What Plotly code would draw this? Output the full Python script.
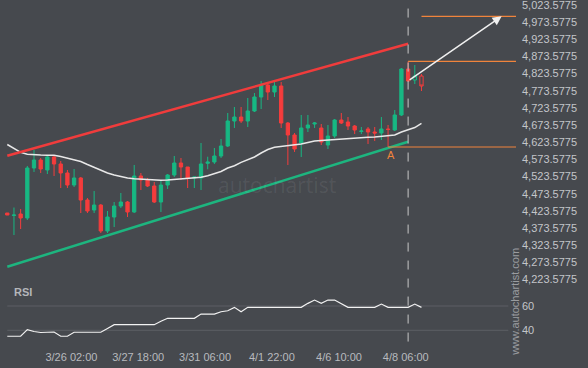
import plotly.graph_objects as go

# ---------------- data ----------------
idx = list(range(63))
opens = [4417.3, 4410.1, 4414.4, 4402.8, 4548.5, 4571.8, 4542.7, 4580.6, 4560.2, 4534.0,
         4498.9, 4519.4, 4455.2, 4426.1, 4440.6, 4364.9, 4405.7, 4437.7, 4449.4, 4420.3,
         4525.2, 4513.5, 4496.0, 4449.4, 4498.9, 4528.1, 4563.1, 4551.4, 4519.4, 4519.4,
         4562.2, 4566.0, 4583.5, 4612.6, 4685.5, 4697.1, 4685.5, 4714.6, 4755.4, 4790.4,
         4770.0, 4787.5, 4679.6, 4644.7, 4621.4, 4665.1, 4676.7, 4665.1, 4615.5, 4641.8,
         4688.4, 4682.6, 4670.9, 4654.9, 4662.2, 4653.4, 4650.5, 4662.2, 4659.3, 4703.0,
         4837.0, 4804.9, 4816.6]
highs = [4417.3, 4433.3, 4429.0, 4554.4, 4601.0, 4577.7, 4586.4, 4586.4, 4568.9, 4542.7,
         4545.6, 4522.3, 4460.9, 4481.4, 4443.5, 4423.2, 4449.4, 4475.6, 4452.3, 4557.3,
         4534.0, 4519.4, 4507.7, 4513.5, 4531.0, 4583.5, 4577.7, 4551.4, 4522.3, 4621.4,
         4581.4, 4606.8, 4633.0, 4708.8, 4726.3, 4726.3, 4752.5, 4767.1, 4802.0, 4799.1,
         4799.1, 4799.1, 4682.6, 4650.5, 4703.0, 4703.0, 4682.6, 4676.7, 4673.8, 4691.3,
         4708.8, 4697.1, 4673.8, 4668.0, 4668.0, 4668.0, 4697.1, 4673.8, 4717.5, 4839.9,
         4859.0, 4848.7, 4822.4]
lows = [4411.5, 4353.2, 4370.7, 4396.9, 4536.9, 4534.0, 4531.0, 4525.2, 4490.2, 4490.2,
        4493.1, 4417.3, 4417.3, 4417.3, 4359.0, 4359.0, 4376.5, 4431.9, 4405.7, 4417.3,
        4484.4, 4493.1, 4446.5, 4420.3, 4487.3, 4522.3, 4513.5, 4490.2, 4490.2, 4484.4,
        4544.7, 4560.2, 4577.7, 4609.7, 4665.1, 4679.6, 4668.0, 4711.7, 4720.4, 4746.7,
        4755.4, 4665.1, 4557.3, 4595.2, 4580.6, 4653.4, 4665.1, 4615.5, 4603.9, 4635.9,
        4676.7, 4659.3, 4647.6, 4647.6, 4618.5, 4627.2, 4630.1, 4609.7, 4656.3, 4700.1,
        4799.1, 4793.3, 4772.9]
closes = [4411.5, 4411.5, 4402.8, 4548.5, 4571.8, 4545.6, 4580.6, 4560.2, 4534.0, 4498.9,
          4519.4, 4455.2, 4423.2, 4440.6, 4364.9, 4405.7, 4437.7, 4449.4, 4420.3, 4525.2,
          4513.5, 4496.0, 4449.4, 4498.9, 4528.1, 4563.1, 4551.4, 4519.4, 4522.3, 4560.2,
          4566.0, 4583.5, 4612.6, 4685.5, 4697.1, 4685.5, 4714.6, 4755.4, 4790.4, 4770.0,
          4787.5, 4679.6, 4644.7, 4603.9, 4665.1, 4673.8, 4679.6, 4624.3, 4641.8, 4688.4,
          4679.6, 4670.9, 4659.3, 4656.3, 4653.4, 4650.5, 4662.2, 4660.8, 4703.0, 4837.0,
          4802.0, 4816.6, 4787.5]
ma = [4617.0, 4604.2, 4594.0, 4588.4, 4586.4, 4586.1, 4585.8, 4585.5, 4582.0, 4577.7,
      4573.6, 4567.5, 4558.7, 4550.0, 4541.8, 4533.9, 4528.1, 4523.7, 4519.4, 4517.3,
      4515.9, 4514.1, 4513.2, 4512.9, 4513.5, 4515.3, 4517.0, 4518.5, 4519.4, 4521.4,
      4525.8, 4531.9, 4538.3, 4548.5, 4555.2, 4564.8, 4571.8, 4580.6, 4592.2, 4602.4,
      4609.1, 4611.2, 4613.2, 4616.1, 4618.5, 4622.8, 4627.2, 4628.7, 4630.1, 4632.4,
      4634.2, 4635.4, 4636.5, 4637.7, 4638.3, 4638.9, 4640.3, 4641.8, 4644.7, 4653.4,
      4659.3, 4666.5, 4678.8]
rsi = [35.1, 35.1, 35.1, 40.5, 39.0, 38.2, 38.2, 38.6, 35.1, 35.1,
       38.4, 38.4, 38.4, 38.4, 38.4, 41.5, 44.6, 44.6, 44.6, 44.6,
       44.6, 44.6, 44.6, 47.5, 49.9, 49.9, 49.9, 49.9, 49.9, 53.4,
       53.4, 53.4, 55.3, 56.1, 58.9, 55.3, 58.9, 58.9, 58.9, 58.9,
       58.9, 58.9, 58.9, 58.9, 58.9, 62.2, 64.9, 62.2, 64.9, 64.9,
       62.2, 58.9, 58.9, 58.9, 58.9, 58.9, 61.6, 58.9, 58.9, 58.9,
       58.9, 61.6, 58.9]

tick_idx = [9.6, 19.6, 29.6, 39.6, 49.65, 59.65]
tick_text = ["3/26 02:00", "3/27 18:00", "3/31 06:00", "4/1 22:00", "4/6 10:00", "4/8 06:00"]
price_ticks = [4223.5775, 4273.5775, 4323.5775, 4373.5775, 4423.5775, 4473.5775,
               4523.5775, 4573.5775, 4623.5775, 4673.5775, 4723.5775, 4773.5775,
               4823.5775, 4873.5775, 4923.5775, 4973.5775, 5023.5775]
rsi_ticks = [40, 60]

channel_idx = [0, 60]
upper_channel = [4584.3, 4910.8]
lower_channel = [4260.8, 4625.1]
signal_idx = 60
a_idx = 57
a_level = 4609.7
high_level = 4859.0
target_idx = 62
target_level = 4990.6
arrow_from = (60, 4802.0)
arrow_to = (74.0, 4990.6)

# ---------------- style ----------------
BG = "#46494e"
GREEN = "#17b883"
RED = "#f53c3c"
ORANGE = "#f0843c"
TXT = "#c3c5c9"
FONT = "Liberation Sans, Arial, sans-serif"
X_MIN, X_MAX = -1.09, 76.15
GRID_END = 75

fig = go.Figure()

solid = slice(0, 61)
hollow = slice(61, 63)
fig.add_trace(go.Candlestick(
    x=idx[solid], open=opens[solid], high=highs[solid], low=lows[solid], close=closes[solid],
    increasing=dict(line=dict(color=GREEN, width=1), fillcolor=GREEN),
    decreasing=dict(line=dict(color=RED, width=1), fillcolor=RED),
    whiskerwidth=0, xaxis="x", yaxis="y", showlegend=False, hoverinfo="skip"))
fig.add_trace(go.Candlestick(
    x=idx[hollow], open=opens[hollow], high=highs[hollow], low=lows[hollow], close=closes[hollow],
    increasing=dict(line=dict(color=GREEN, width=1), fillcolor=BG),
    decreasing=dict(line=dict(color=RED, width=1), fillcolor=BG),
    whiskerwidth=0, xaxis="x", yaxis="y", showlegend=False, hoverinfo="skip"))

# moving average
fig.add_trace(go.Scatter(x=idx, y=ma, mode="lines", line=dict(color="#e8e8e8", width=1.5),
                         xaxis="x", yaxis="y", showlegend=False, hoverinfo="skip"))
# channel
fig.add_trace(go.Scatter(x=channel_idx, y=upper_channel, mode="lines",
                         line=dict(color="#f03c3c", width=2.5), showlegend=False, hoverinfo="skip"))
fig.add_trace(go.Scatter(x=channel_idx, y=lower_channel, mode="lines",
                         line=dict(color="#1db57f", width=2.5), showlegend=False, hoverinfo="skip"))
# orange levels
for x0, lvl in [(a_idx, a_level), (signal_idx, high_level), (target_idx, target_level)]:
    fig.add_trace(go.Scatter(x=[x0, X_MAX], y=[lvl, lvl], mode="lines",
                             line=dict(color=ORANGE, width=1.2), showlegend=False, hoverinfo="skip"))

# RSI level lines
for lvl in rsi_ticks:
    fig.add_shape(type="line", xref="x", yref="y2", x0=0, x1=GRID_END, y0=lvl, y1=lvl,
                  line=dict(color="#5c5f64", width=1), layer="below")

# RSI
fig.add_trace(go.Scatter(x=idx, y=rsi, mode="lines", line=dict(color="#f2f2f2", width=1.2),
                         xaxis="x", yaxis="y2", showlegend=False, hoverinfo="skip"))

# arrow
fig.add_annotation(x=arrow_to[0], y=arrow_to[1], ax=arrow_from[0], ay=arrow_from[1],
                   xref="x", yref="y", axref="x", ayref="y", text="", showarrow=True,
                   arrowhead=2, arrowsize=1.2, arrowwidth=1.5, arrowcolor="#f0f0f0")
# A label
fig.add_annotation(x=a_idx + 0.4, y=a_level, xref="x", yref="y", text="A", showarrow=False,
                   yshift=-8, font=dict(color=ORANGE, size=11, family=FONT))

# vertical dashed line
fig.add_shape(type="line", xref="x", yref="paper", x0=signal_idx, x1=signal_idx,
              y0=0.01, y1=0.985, line=dict(color="#c8c8c8", width=1, dash="dash"))

# watermark
fig.add_annotation(x=0.537, y=0.4638, xref="paper", yref="paper", text="autochartist",
                   xanchor="center", yanchor="middle", showarrow=False,
                   font=dict(color="rgba(255,255,255,0.08)", size=21, family="Open Sans"))
# RSI label
fig.add_annotation(x=0.0455, y=0.1545, xref="paper", yref="paper", text="<b>RSI</b>",
                   xanchor="center", yanchor="middle", showarrow=False,
                   font=dict(color="#b4b6ba", size=11, family=FONT))
# website vertical text
fig.add_annotation(x=0.998, y=0.125, xref="paper", yref="paper", text="www.autochartist.com",
                   xanchor="center", yanchor="middle", showarrow=False, textangle=-90,
                   font=dict(color="#9a9ca0", size=11, family=FONT))

fig.update_layout(
    width=588, height=368,
    margin=dict(l=0, r=72, t=0, b=23),
    paper_bgcolor=BG, plot_bgcolor=BG,
    font=dict(family=FONT, color=TXT, size=11),
    showlegend=False,
    xaxis=dict(range=[X_MIN, X_MAX], anchor="y2", showgrid=False, zeroline=False,
               showline=False, tickmode="array", tickvals=tick_idx, ticktext=tick_text,
               ticks="", ticklabelstandoff=4, tickfont=dict(size=11, color="#b8babe"),
               rangeslider=dict(visible=False)),
    yaxis=dict(domain=[0.1768, 1], range=[4210.4, 5038.15], side="right", anchor="x",
               showgrid=False, zeroline=False, showline=False, tickmode="array",
               tickvals=price_ticks, tickformat=",.4f", ticks="",
               ticklabelstandoff=5, ticklabeloverflow="allow",
               tickfont=dict(size=11, color=TXT)),
    yaxis2=dict(domain=[0, 0.1739], range=[27.9, 77.3], side="right", anchor="x",
                showgrid=False, zeroline=False,
                showline=False, tickmode="array", tickvals=rsi_ticks, ticks="",
                ticklabelstandoff=5, tickfont=dict(size=11, color=TXT)),
)

fig.write_html("out.html", config={"displayModeBar": False},
               post_script="document.body.style.margin='0';document.body.style.background='%s';" % BG)
